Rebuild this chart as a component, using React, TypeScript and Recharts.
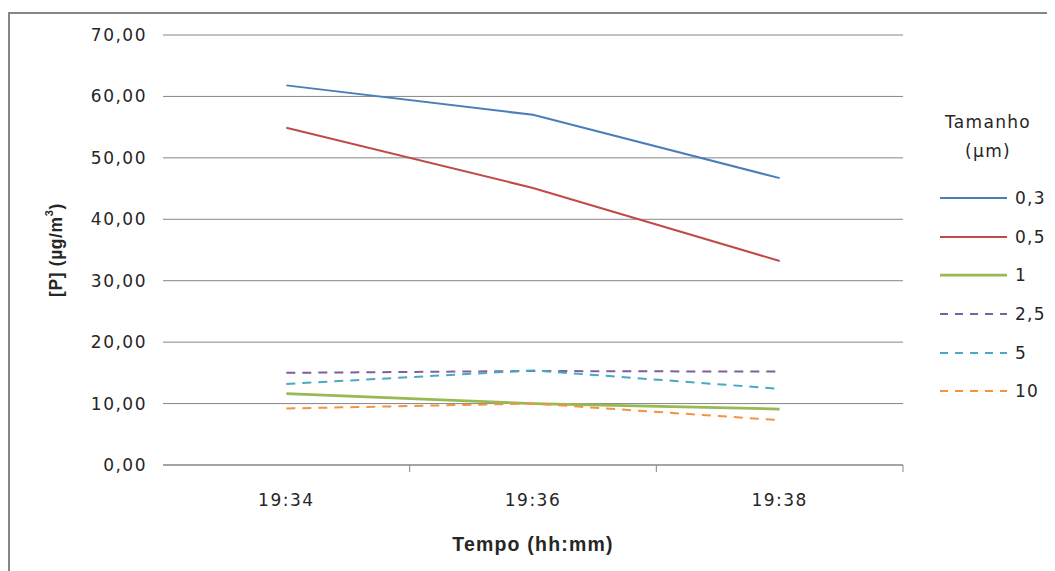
import { LineChart, Line, XAxis, YAxis, CartesianGrid, Legend, Label } from 'recharts';

const categories = ['19:34', '19:36', '19:38'];
const yTicks = [0, 10, 20, 30, 40, 50, 60, 70];

const s03 = [61.8, 57.0, 46.7];
const s05 = [54.9, 45.1, 33.2];
const s1 = [11.6, 10.0, 9.1];
const s25 = [15.0, 15.3, 15.2];
const s5 = [13.2, 15.4, 12.4];
const s10 = [9.2, 10.0, 7.3];

const data = categories.map((time, i) => ({
    pos: i + 0.5,
    time,
    s03: s03[i],
    s05: s05[i],
    s1: s1[i],
    s25: s25[i],
    s5: s5[i],
    s10: s10[i],
}));

const series = [
    { key: 's03', name: '0,3', color: '#4A7EBB', width: 2, dash: undefined },
    { key: 's05', name: '0,5', color: '#BE4B48', width: 2, dash: undefined },
    { key: 's1', name: '1', color: '#98B954', width: 2.75, dash: undefined },
    { key: 's25', name: '2,5', color: '#7D60A0', width: 2, dash: '9 7' },
    { key: 's5', name: '5', color: '#46AAC5', width: 2, dash: '9 7' },
    { key: 's10', name: '10', color: '#F69240', width: 2, dash: '9 7' },
];

const GRID = '#868686';
const TEXT = '#262626';
const FONT = '"DejaVu Sans", Verdana, sans-serif';
const BOLD_FONT = '"Liberation Sans", Arial, sans-serif';

const TimeTick = (props: any) => {
    const { x, y, payload } = props;
    const v = payload.value as number;
    if (Number.isInteger(v)) {
        if (v === 0) return null;
        return <line x1={x} x2={x} y1={y} y2={y + 7} stroke={GRID} strokeWidth={1} />;
    }
    return (
        <text x={x} y={y + 41} textAnchor="middle" fill={TEXT} fontSize={17} fontFamily={FONT} letterSpacing={1.5}>
            {categories[Math.floor(v)]}
        </text>
    );
};

const YTitle = (props: any) => {
    const { x, y, height } = props.viewBox;
    return (
        <text
            transform={`translate(${x + 48}, ${y + height / 2}) rotate(-90)`}
            textAnchor="middle"
            dominantBaseline="central"
            fill={TEXT}
            fontSize={17.5}
            fontWeight="bold"
            fontFamily={BOLD_FONT}
            letterSpacing={0.6}
        >
            [P] (µg/m<tspan dy={-7} fontSize={11}>3</tspan>
            <tspan dy={7}>)</tspan>
        </text>
    );
};

const SizeLegend = (props: any) => {
    const payload = [...(props.payload || [])].sort(
        (a: any, b: any) =>
            series.findIndex((s) => s.key === a.dataKey) - series.findIndex((s) => s.key === b.dataKey),
    );
    return (
        <div style={{ fontFamily: FONT, fontSize: 17, color: TEXT, letterSpacing: 1.3 }}>
            <div style={{ width: 116, textAlign: 'center', lineHeight: '29px' }}>
                <div>Tamanho</div>
                <div>(µm)</div>
            </div>
            <div style={{ marginTop: 13 }}>
                {payload.map((entry: any) => {
                    const s = series.find((item) => item.key === entry.dataKey);
                    return (
                        <div key={entry.value} style={{ display: 'flex', alignItems: 'center', height: 38.6, whiteSpace: 'nowrap' }}>
                            <svg width={85} height={10} style={{ flex: 'none' }}>
                                <line
                                    x1={10}
                                    x2={77}
                                    y1={5}
                                    y2={5}
                                    stroke={entry.color}
                                    strokeWidth={s ? s.width : 2}
                                    strokeDasharray={s && s.dash ? '8 7' : undefined}
                                />
                            </svg>
                            <span>{entry.value}</span>
                        </div>
                    );
                })}
            </div>
        </div>
    );
};

export default function App() {
    return (
        <div style={{ paddingTop: 4 }}>
            <div style={{ position: 'relative', width: 1047, height: 559 }}>
                <div
                    style={{
                        position: 'absolute',
                        left: 0,
                        top: 0,
                        width: 1047,
                        height: 559,
                        borderTop: `2px solid ${GRID}`,
                        borderLeft: `2px solid ${GRID}`,
                        boxSizing: 'border-box',
                    }}
                />
                <div style={{ position: 'absolute', left: 0, top: 0 }}>
                    <LineChart width={1047} height={559} data={data} margin={{ top: 23, right: 152, left: 0, bottom: 16 }}>
                        <CartesianGrid vertical={false} stroke={GRID} strokeWidth={1} />
                        <XAxis
                            dataKey="pos"
                            type="number"
                            domain={[0, 3]}
                            ticks={[0, 0.5, 1, 1.5, 2, 2.5, 3]}
                            interval={0}
                            tickLine={false}
                            tickSize={0}
                            tickMargin={0}
                            tick={<TimeTick />}
                            height={90}
                            axisLine={{ stroke: GRID, strokeWidth: 1 }}
                        >
                            <Label
                                value="Tempo (hh:mm)"
                                position="insideBottom"
                                offset={4}
                                fill={TEXT}
                                fontSize={19.5}
                                fontWeight="bold"
                                fontFamily={BOLD_FONT}
                                letterSpacing={1.2}
                            />
                        </XAxis>
                        <YAxis
                            type="number"
                            domain={[0, 70]}
                            ticks={yTicks}
                            interval={0}
                            width={155}
                            axisLine={false}
                            tickLine={false}
                            tickMargin={10}
                            tick={{ fill: TEXT, fontSize: 17, fontFamily: FONT, letterSpacing: 1.5 }}
                            tickFormatter={(v: number) => v.toFixed(2).replace('.', ',')}
                        >
                            <Label content={<YTitle />} />
                        </YAxis>
                        <Legend
                            layout="vertical"
                            align="center"
                            verticalAlign="middle"
                            wrapperStyle={{ left: 922, top: 96, width: 124 }}
                            content={<SizeLegend />}
                        />
                        {series.map((s) => (
                            <Line
                                key={s.key}
                                type="linear"
                                dataKey={s.key}
                                name={s.name}
                                stroke={s.color}
                                strokeWidth={s.width}
                                strokeDasharray={s.dash}
                                dot={false}
                                activeDot={false}
                                isAnimationActive={false}
                            />
                        ))}
                    </LineChart>
                </div>
            </div>
        </div>
    );
}
